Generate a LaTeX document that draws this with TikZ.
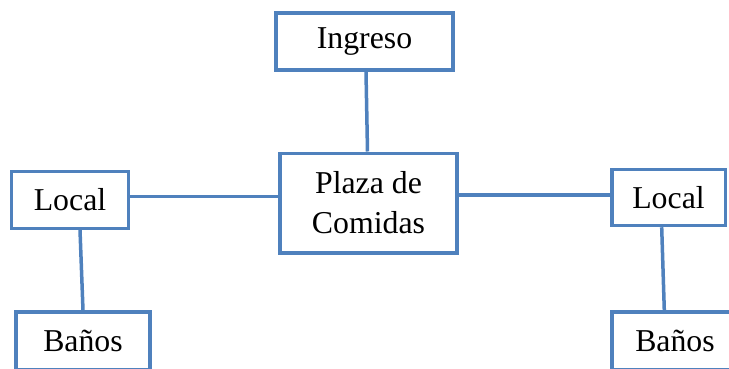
\documentclass[tikz,border=0pt]{standalone}
\usepackage{fontspec}
\setmainfont{Liberation Serif}
\definecolor{boxblue}{HTML}{4F81BD}
\begin{document}
\begin{tikzpicture}[x=1pt,y=-1pt,
  box/.style={draw=boxblue, line width=3.5pt, fill=white, align=center,
    inner sep=0pt, font=\fontsize{31.8}{40}\selectfont},
  link/.style={draw=boxblue, line width=3.5pt}]
\useasboundingbox (0,0) rectangle (729,369);
\clip (0,0) rectangle (729,369);
\node[box, minimum width=177pt, minimum height=57pt] (ing) at (364.5,41.5) {Ingreso};
\node[box, minimum width=177pt, minimum height=99.5pt] (plaza) at (368.5,203) {Plaza de\\Comidas};
\node[box, minimum width=116.6pt, minimum height=56.6pt] (locL) at (70,200) {Local};
\node[box, minimum width=134pt, minimum height=58pt] (banL) at (83,341) {Baños};
\node[box, minimum width=113.5pt, minimum height=56pt] (locR) at (668.5,197.5) {Local};
\node[box, minimum width=126pt, minimum height=58pt] (banR) at (675,341) {Baños};
\draw[link] ([xshift=1.5pt]ing.south) -- ([xshift=-1pt]plaza.north);
\draw[link] ([yshift=3.3pt]locL.east) -- ([yshift=6.3pt]plaza.west);
\draw[link] ([yshift=8pt]plaza.east) -- ([yshift=2.5pt]locR.west);
\draw[link] ([xshift=10pt]locL.south) -- ([xshift=0pt]banL.north);
\draw[link] ([xshift=-6.8pt]locR.south) -- ([xshift=-10.7pt]banR.north);
\end{tikzpicture}
\end{document}
